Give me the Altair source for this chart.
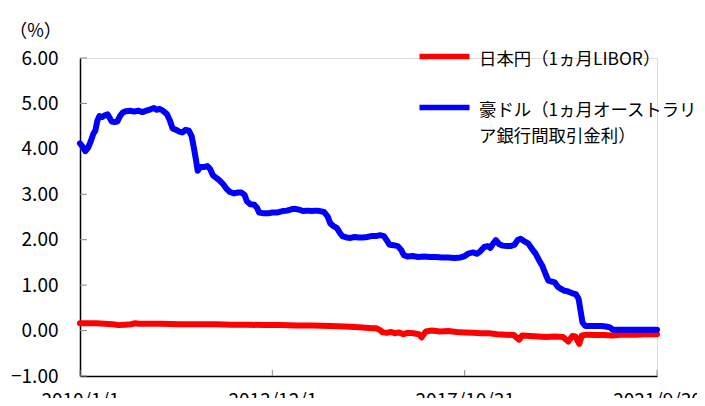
import altair as alt
import pandas as pd

# ---- data ----
aud_dates = ["2010-01-01","2010-01-20","2010-02-10","2010-03-01","2010-03-20","2010-04-10","2010-04-25",
    "2010-05-10","2010-05-25","2010-06-15","2010-07-05","2010-07-25","2010-08-10","2010-08-25","2010-09-15",
    "2010-10-05","2010-10-25","2010-11-15","2010-12-10","2011-01-10","2011-02-10","2011-03-10","2011-04-10",
    "2011-05-10","2011-06-10","2011-07-05","2011-07-25","2011-08-15","2011-09-10","2011-10-10","2011-11-01",
    "2011-11-20","2011-12-15","2012-01-10","2012-02-01","2012-02-25","2012-03-20","2012-04-10","2012-04-25",
    "2012-05-10","2012-05-25","2012-06-15","2012-07-10","2012-08-05","2012-08-25","2012-09-15","2012-10-10",
    "2012-11-05","2012-12-01","2012-12-25","2013-01-20","2013-02-20","2013-03-20","2013-04-15","2013-05-10",
    "2013-05-25","2013-06-20","2013-07-20","2013-08-10","2013-08-25","2013-10-01","2013-11-01","2013-12-01",
    "2014-01-10","2014-02-15","2014-03-20","2014-04-20","2014-05-20","2014-06-20","2014-07-20","2014-08-20",
    "2014-09-20","2014-10-20","2014-11-20","2014-12-20","2015-01-15","2015-02-05","2015-03-01","2015-03-25",
    "2015-04-15","2015-05-05","2015-06-05","2015-07-05","2015-08-05","2015-09-05","2015-10-05","2015-11-05",
    "2015-12-05","2016-01-10","2016-02-10","2016-03-10","2016-04-01","2016-04-20","2016-05-20","2016-06-20",
    "2016-07-15","2016-08-05","2016-09-01","2016-10-10","2016-11-20","2017-01-01","2017-02-15","2017-04-01",
    "2017-05-15","2017-07-01","2017-08-15","2017-10-01","2017-11-01","2017-12-01","2018-01-01","2018-02-01",
    "2018-03-01","2018-03-25","2018-04-20","2018-05-10","2018-06-01","2018-06-20","2018-07-15","2018-08-10",
    "2018-09-10","2018-10-10","2018-11-05","2018-12-01","2018-12-20","2019-01-15","2019-02-15","2019-03-15",
    "2019-04-10","2019-05-05","2019-06-01","2019-06-25","2019-07-15","2019-08-10","2019-09-01","2019-09-25",
    "2019-10-15","2019-11-10","2019-12-10","2020-01-10","2020-02-05","2020-02-25","2020-03-10","2020-03-25",
    "2020-04-15","2020-05-15","2020-06-15","2020-07-15","2020-08-15","2020-09-15","2020-10-15","2020-11-05",
    "2020-12-10","2021-02-01","2021-04-01","2021-06-01","2021-08-01","2021-09-30"]
aud_values = [4.12,4.05,3.95,4.02,4.15,4.33,4.40,
    4.62,4.72,4.70,4.74,4.76,4.68,4.60,4.59,
    4.60,4.72,4.80,4.83,4.84,4.82,4.84,4.81,
    4.84,4.87,4.90,4.86,4.88,4.84,4.76,4.62,
    4.45,4.42,4.38,4.36,4.42,4.40,4.28,4.05,
    3.80,3.52,3.60,3.60,3.62,3.56,3.42,3.36,
    3.30,3.22,3.12,3.05,3.02,3.04,3.04,2.98,
    2.85,2.78,2.77,2.70,2.60,2.58,2.58,2.60,
    2.60,2.63,2.64,2.67,2.68,2.66,2.63,2.64,
    2.63,2.64,2.63,2.61,2.52,2.36,2.30,2.26,
    2.16,2.08,2.05,2.04,2.06,2.05,2.05,2.06,
    2.08,2.08,2.10,2.08,1.98,1.89,1.88,1.86,
    1.78,1.66,1.63,1.64,1.62,1.63,1.62,1.62,
    1.61,1.61,1.60,1.61,1.64,1.70,1.72,1.69,
    1.76,1.84,1.86,1.82,1.92,1.99,1.90,1.87,
    1.86,1.86,1.89,2.00,2.02,1.97,1.92,1.80,
    1.70,1.56,1.42,1.24,1.10,1.08,1.06,0.96,
    0.92,0.88,0.86,0.82,0.80,0.70,0.45,0.18,
    0.10,0.10,0.10,0.10,0.10,0.09,0.07,0.02,
    0.02,0.02,0.02,0.02,0.02,0.02]

jpy_dates = ["2010-01-01","2010-03-01","2010-05-01","2010-07-01","2010-09-01","2010-10-15","2010-12-01",
    "2011-01-15","2011-02-15","2011-03-15","2011-06-01","2011-09-01","2012-01-01","2012-06-01","2012-10-01",
    "2013-02-01","2013-06-01","2013-10-01","2014-02-01","2014-06-01","2014-10-01","2015-02-01","2015-06-01",
    "2015-10-01","2015-12-15","2016-01-15","2016-02-10","2016-03-01","2016-04-01","2016-05-01","2016-06-01",
    "2016-07-01","2016-08-01","2016-09-01","2016-10-15","2016-11-25","2016-12-15","2017-01-15","2017-03-01",
    "2017-05-01","2017-07-01","2017-09-01","2017-11-01","2018-01-01","2018-03-01","2018-05-01","2018-07-01",
    "2018-09-01","2018-11-01","2018-12-10","2019-01-01","2019-03-01","2019-05-01","2019-07-01","2019-09-01",
    "2019-11-01","2019-12-10","2020-01-10","2020-02-01","2020-03-01","2020-03-20","2020-05-01","2020-07-01",
    "2020-09-01","2020-11-01","2021-01-01","2021-03-01","2021-05-01","2021-07-01","2021-09-30"]
jpy_values = [0.16,0.16,0.16,0.15,0.14,0.12,0.13,
    0.14,0.16,0.15,0.15,0.15,0.14,0.14,0.14,
    0.13,0.13,0.12,0.12,0.11,0.11,0.10,0.09,
    0.07,0.05,0.05,0.01,-0.04,-0.05,-0.03,-0.06,
    -0.04,-0.08,-0.05,-0.06,-0.08,-0.15,-0.02,0.00,
    -0.02,-0.01,-0.03,-0.04,-0.05,-0.06,-0.06,-0.08,
    -0.09,-0.10,-0.20,-0.11,-0.12,-0.13,-0.14,-0.13,
    -0.14,-0.24,-0.12,-0.13,-0.29,-0.11,-0.09,-0.10,
    -0.10,-0.11,-0.09,-0.09,-0.09,-0.08,-0.08]

series_names = ["日本円（1ヵ月LIBOR）", "豪ドル（1ヵ月オーストラリア銀行間取引金利）"]
series_colors = ["#FF0000", "#0000FF"]
y_ticks = [-1, 0, 1, 2, 3, 4, 5, 6]
x_tick_dates = ["2010-01-01", "2013-12-01", "2017-10-31", "2021-09-30"]

jpy = pd.DataFrame({"date": jpy_dates, "value": jpy_values, "series": series_names[0]})
aud = pd.DataFrame({"date": aud_dates, "value": aud_values, "series": series_names[1]})
yt = pd.DataFrame({"v": y_ticks})
xt = pd.DataFrame({"d": x_tick_dates})

FONT = "Noto Sans CJK JP"
FS = 19
W, H = 577, 318

x_tick_ms = [int(pd.Timestamp(d, tz="UTC").value // 10**6) for d in x_tick_dates]

xscale = alt.Scale(type="utc", domain=[alt.DateTime(year=2010, month=1, date=1, utc=True),
                                       alt.DateTime(year=2021, month=9, date=30, utc=True)])
yscale = alt.Scale(domain=[-1, 6], nice=False)

color = alt.Color("series:N",
    scale=alt.Scale(domain=series_names, range=series_colors),
    legend=alt.Legend(
        title=None, orient="none", legendX=349, legendY=-23,
        symbolType="M-2,0.48L2,0.48", symbolSize=625, symbolStrokeWidth=5.5,
        labelOffset=19, labelFont=FONT, labelFontSize=17.4, labelColor="#000",
        labelLimit=400, labelBaseline="top", rowPadding=18,
        labelExpr="length(datum.label) > 14 ? [substring(datum.label, 0, 13), substring(datum.label, 13)] : datum.label",
    ))

xenc = alt.X("date:T", scale=xscale,
    axis=alt.Axis(title=None, values=x_tick_ms, ticks=False, grid=False,
                  labelExpr="utcFormat(datum.value, '%Y/%-m/%-d')",
                  labelPadding=15, labelFontSize=FS, labelFont=FONT, labelColor="#000",
                  domainColor="#000", domainWidth=1.5, labelFlush=False, labelOverlap=False))
yenc = alt.Y("value:Q", scale=yscale,
    axis=alt.Axis(title="（%）", titleAngle=0, titleX=-45, titleY=-27, titleAlign="center",
                  titleBaseline="middle", titleFont=FONT, titleFontSize=18, titleFontWeight="normal",
                  titleColor="#000",
                  values=y_ticks, format=".2f", ticks=False, grid=False, labelPadding=22,
                  labelFontSize=FS, labelFont=FONT, labelColor="#000",
                  domainColor="#000", domainWidth=1.5))

red = alt.Chart(jpy).mark_line(strokeWidth=6, strokeJoin="round", strokeCap="round").encode(
    x=xenc, y=yenc, color=color)
blue = alt.Chart(aud).mark_line(strokeWidth=6, strokeJoin="round", strokeCap="round").encode(
    x=alt.X("date:T", scale=xscale), y=alt.Y("value:Q", scale=yscale), color=alt.Color("series:N"))

yticks = alt.Chart(yt).mark_rule(color="#888888", strokeWidth=1).encode(
    y=alt.Y("v:Q", scale=yscale), x=alt.value(0), x2=alt.value(7))
xticks = alt.Chart(xt).mark_rule(color="#888888", strokeWidth=1).encode(
    x=alt.X("d:T", scale=xscale), y=alt.value(H), y2=alt.value(H - 6))

chart = alt.layer(yticks, xticks, red, blue).properties(
    width=W, height=H,
    autosize=alt.AutoSizeParams(type="none"),
    padding={"left": 72, "top": 50, "right": 40, "bottom": 22},
    background="white",
).configure_view(stroke=None).configure(style={"guide-label": {"lineHeight": 26}})

chart.save("out.html", embed_options={"renderer": "svg", "actions": False})
